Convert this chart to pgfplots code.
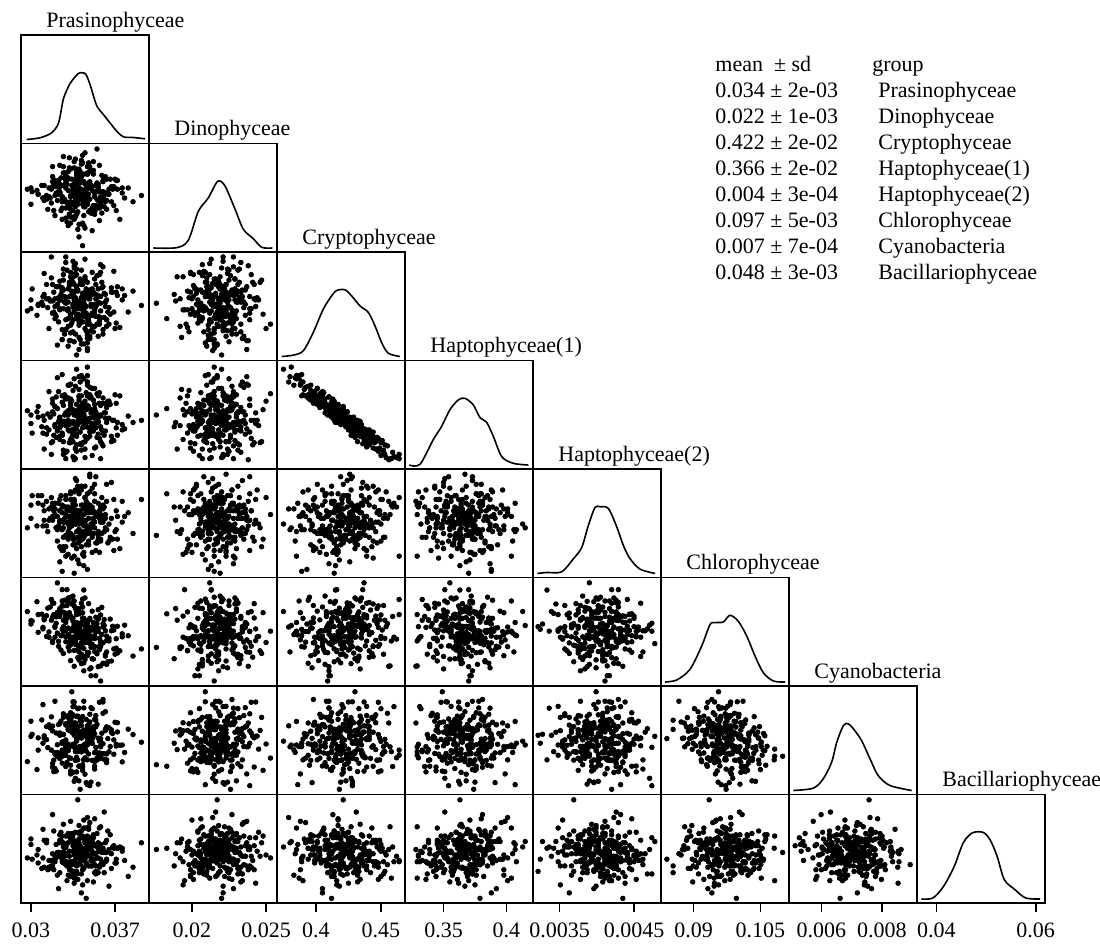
\documentclass[border=0pt]{standalone}
\usepackage{fontspec}
\setmainfont{Liberation Serif}
\usepackage{pgfplots}
\pgfplotsset{compat=1.18}
\usepackage{pgfplotstable}

\newcommand\tfont{\fontsize{11pt}{13pt}\selectfont}

\pgfplotstableread{
v1 v2 v3 v4 v5 v6 v7 v8
0.0346 0.0212 0.435 0.359 0.00417 0.0954 0.00786 0.0456
0.0324 0.0223 0.416 0.363 0.00363 0.1020 0.00651 0.0523
0.0362 0.0231 0.423 0.372 0.00408 0.0906 0.00748 0.0481
0.0338 0.0201 0.448 0.336 0.00453 0.0982 0.00581 0.0417
0.0351 0.0220 0.401 0.395 0.00384 0.1025 0.00730 0.0507
0.0310 0.0214 0.428 0.353 0.00429 0.0978 0.00693 0.0468
0.0340 0.0228 0.410 0.387 0.00336 0.0972 0.00830 0.0494
0.0358 0.0207 0.457 0.329 0.00414 0.0880 0.00679 0.0542
0.0332 0.0238 0.388 0.398 0.00396 0.1021 0.00680 0.0440
0.0376 0.0218 0.425 0.356 0.00435 0.0957 0.00620 0.0484
0.0335 0.0216 0.419 0.375 0.00375 0.0948 0.00746 0.0513
0.0343 0.0209 0.431 0.358 0.00402 0.1057 0.00731 0.0465
0.0329 0.0226 0.407 0.385 0.00444 0.0974 0.00678 0.0497
0.0354 0.0219 0.439 0.340 0.00357 0.0984 0.00801 0.0449
0.0319 0.0204 0.414 0.371 0.00420 0.1046 0.00627 0.0532
0.0347 0.0233 0.396 0.398 0.00390 0.0907 0.00740 0.0475
0.0337 0.0214 0.427 0.351 0.00471 0.0988 0.00556 0.0488
0.0365 0.0221 0.418 0.367 0.00399 0.0946 0.00753 0.0401
0.0326 0.0197 0.433 0.353 0.00426 0.1023 0.00615 0.0504
0.0341 0.0229 0.444 0.354 0.00372 0.0933 0.00788 0.0459
0.0333 0.0211 0.402 0.383 0.00411 0.0894 0.00760 0.0520
0.0356 0.0225 0.429 0.368 0.00381 0.1008 0.00650 0.0433
0.0339 0.0203 0.412 0.368 0.00459 0.0956 0.00713 0.0478
0.0321 0.0218 0.437 0.349 0.00393 0.1010 0.00584 0.0500
0.0350 0.0236 0.421 0.362 0.00423 0.0929 0.00832 0.0472
0.0344 0.0215 0.385 0.404 0.00348 0.0972 0.00686 0.0539
0.0315 0.0222 0.426 0.356 0.00405 0.0970 0.00758 0.0446
0.0369 0.0208 0.451 0.346 0.00438 0.0975 0.00650 0.0491
0.0331 0.0230 0.415 0.371 0.00387 0.1051 0.00690 0.0452
0.0348 0.0217 0.409 0.376 0.00417 0.0915 0.00651 0.0510
0.0336 0.0199 0.432 0.357 0.00366 0.0989 0.00736 0.0427
0.0360 0.0227 0.398 0.381 0.00429 0.0941 0.00864 0.0488
0.0328 0.0213 0.423 0.370 0.00402 0.1021 0.00651 0.0497
0.0342 0.0241 0.441 0.342 0.00378 0.0903 0.00720 0.0462
0.0353 0.0206 0.417 0.380 0.00447 0.0960 0.00786 0.0561
0.0305 0.0220 0.411 0.373 0.00396 0.1050 0.00590 0.0475
0.0338 0.0232 0.453 0.342 0.00414 0.0953 0.00708 0.0436
0.0347 0.0211 0.393 0.388 0.00327 0.0991 0.00728 0.0507
0.0323 0.0219 0.427 0.364 0.00432 0.0945 0.00653 0.0481
0.0359 0.0202 0.436 0.343 0.00384 0.1035 0.00653 0.0456
0.0334 0.0224 0.404 0.383 0.00408 0.0973 0.00794 0.0526
0.0345 0.0215 0.420 0.368 0.00441 0.0985 0.00572 0.0468
0.0372 0.0228 0.429 0.363 0.00375 0.0914 0.00773 0.0491
0.0330 0.0195 0.416 0.370 0.00420 0.1082 0.00670 0.0414
0.0340 0.0237 0.380 0.406 0.00390 0.0917 0.00679 0.0504
0.0317 0.0210 0.445 0.344 0.00426 0.1001 0.00796 0.0449
0.0351 0.0223 0.413 0.372 0.00354 0.0954 0.00693 0.0516
0.0339 0.0189 0.424 0.363 0.00405 0.1032 0.00741 0.0478
0.0363 0.0218 0.401 0.380 0.00462 0.0917 0.00628 0.0465
0.0327 0.0234 0.434 0.364 0.00393 0.0984 0.00728 0.0548
0.0344 0.0207 0.419 0.365 0.00423 0.0888 0.00740 0.0443
0.0355 0.0226 0.447 0.349 0.00369 0.0992 0.00627 0.0494
0.0320 0.0216 0.408 0.378 0.00411 0.1011 0.00857 0.0459
0.0337 0.0245 0.425 0.360 0.00399 0.0958 0.00670 0.0529
0.0349 0.0213 0.390 0.389 0.00450 0.1006 0.00709 0.0472
0.0332 0.0201 0.438 0.355 0.00381 0.0933 0.00636 0.0484
0.0381 0.0222 0.414 0.369 0.00417 0.0960 0.00748 0.0424
0.0325 0.0230 0.430 0.361 0.00360 0.0960 0.00654 0.0510
0.0343 0.0212 0.405 0.381 0.00429 0.1036 0.00797 0.0462
0.0358 0.0219 0.422 0.369 0.00402 0.0943 0.00683 0.0500
0.0314 0.0205 0.418 0.371 0.00387 0.1033 0.00676 0.0440
0.0336 0.0238 0.456 0.328 0.00435 0.0879 0.00772 0.0488
0.0346 0.0221 0.397 0.391 0.00396 0.0980 0.00539 0.0507
0.0329 0.0198 0.427 0.360 0.00414 0.0944 0.00769 0.0452
0.0366 0.0229 0.412 0.380 0.00378 0.1004 0.00680 0.0523
0.0341 0.0214 0.440 0.343 0.00456 0.0975 0.00779 0.0475
0.0322 0.0217 0.384 0.405 0.00372 0.0967 0.00657 0.0478
0.0352 0.0233 0.432 0.355 0.00408 0.0898 0.00744 0.0411
0.0335 0.0204 0.421 0.364 0.00423 0.1006 0.00579 0.0497
0.0348 0.0226 0.406 0.378 0.00390 0.0973 0.00765 0.0536
0.0301 0.0219 0.435 0.353 0.00444 0.0999 0.00728 0.0465
0.0339 0.0209 0.418 0.371 0.00342 0.1019 0.00660 0.0491
0.0357 0.0240 0.448 0.348 0.00420 0.0932 0.00853 0.0446
0.0333 0.0215 0.395 0.385 0.00405 0.1062 0.00607 0.0513
0.0344 0.0192 0.426 0.360 0.00384 0.0926 0.00725 0.0468
0.0318 0.0227 0.413 0.381 0.00432 0.1009 0.00599 0.0571
0.0362 0.0211 0.430 0.355 0.00393 0.0973 0.00743 0.0459
0.0340 0.0222 0.402 0.384 0.00411 0.0968 0.00666 0.0484
0.0327 0.0247 0.443 0.345 0.00363 0.0913 0.00794 0.0504
0.0354 0.0208 0.419 0.373 0.00474 0.0993 0.00677 0.0430
0.0338 0.0220 0.375 0.413 0.00399 0.1024 0.00701 0.0494
0.0345 0.0213 0.462 0.330 0.00426 0.0951 0.00636 0.0472
0.0331 0.0235 0.423 0.365 0.00375 0.0980 0.00801 0.0520
0.0350 0.0202 0.411 0.372 0.00417 0.0854 0.00747 0.0449
0.0324 0.0218 0.437 0.347 0.00438 0.1011 0.00641 0.0481
0.0370 0.0229 0.399 0.389 0.00387 0.0911 0.00775 0.0456
0.0336 0.0216 0.428 0.362 0.00402 0.1039 0.00544 0.0497
0.0343 0.0194 0.416 0.375 0.00351 0.0956 0.00742 0.0404
0.0311 0.0224 0.449 0.338 0.00420 0.1002 0.00713 0.0510
0.0347 0.0239 0.407 0.379 0.00447 0.0916 0.00693 0.0488
0.0334 0.0210 0.433 0.356 0.00396 0.1006 0.00773 0.0436
0.0356 0.0223 0.392 0.388 0.00411 0.0971 0.00635 0.0504
0.0329 0.0206 0.422 0.372 0.00381 0.0957 0.00706 0.0478
0.0342 0.0231 0.439 0.343 0.00459 0.1046 0.00713 0.0462
0.0364 0.0217 0.414 0.383 0.00369 0.0891 0.00711 0.0532
0.0320 0.0200 0.426 0.359 0.00414 0.0986 0.00594 0.0475
0.0349 0.0227 0.403 0.386 0.00390 0.1002 0.00806 0.0491
0.0337 0.0212 0.458 0.329 0.00429 0.0946 0.00660 0.0420
0.0352 0.0243 0.419 0.372 0.00405 0.0978 0.00720 0.0516
0.0326 0.0215 0.389 0.388 0.00324 0.0977 0.00693 0.0465
0.0345 0.0220 0.430 0.360 0.00423 0.1060 0.00722 0.0507
0.0333 0.0205 0.410 0.379 0.00384 0.0940 0.00634 0.0452
0.0359 0.0232 0.441 0.356 0.00441 0.0963 0.00732 0.0481
0.0340 0.0218 0.417 0.363 0.00399 0.0896 0.00716 0.0545
0.0316 0.0214 0.424 0.368 0.00408 0.1036 0.00753 0.0443
0.0374 0.0197 0.400 0.388 0.00360 0.0920 0.00685 0.0494
0.0338 0.0236 0.434 0.352 0.00417 0.0995 0.00756 0.0472
0.0347 0.0209 0.386 0.407 0.00432 0.0962 0.00531 0.0500
0.0330 0.0225 0.452 0.336 0.00378 0.1040 0.00680 0.0459
0.0355 0.0213 0.421 0.369 0.00411 0.0912 0.00767 0.0526
0.0297 0.0221 0.415 0.374 0.00393 0.1024 0.00621 0.0468
0.0342 0.0244 0.427 0.365 0.00453 0.0957 0.00721 0.0484
0.0361 0.0207 0.409 0.372 0.00387 0.0987 0.00652 0.0433
0.0335 0.0219 0.446 0.345 0.00402 0.0948 0.00804 0.0510
0.0328 0.0230 0.394 0.389 0.00426 0.1054 0.00646 0.0491
0.0348 0.0203 0.431 0.358 0.00366 0.0957 0.00706 0.0449
0.0339 0.0217 0.420 0.364 0.00414 0.0973 0.00628 0.0497
0.0323 0.0228 0.405 0.392 0.00396 0.0932 0.00766 0.0395
0.0367 0.0211 0.436 0.350 0.00465 0.0973 0.00736 0.0478
0.0343 0.0248 0.412 0.375 0.00375 0.1021 0.00587 0.0520
0.0332 0.0201 0.428 0.361 0.00420 0.0958 0.00778 0.0456
0.0350 0.0224 0.397 0.387 0.00399 0.0875 0.00712 0.0488
0.0313 0.0216 0.439 0.352 0.00435 0.1013 0.00707 0.0504
0.0344 0.0233 0.423 0.359 0.00381 0.1006 0.00744 0.0446
0.0357 0.0206 0.406 0.391 0.00408 0.0923 0.00655 0.0539
0.0336 0.0220 0.454 0.330 0.00450 0.0984 0.00689 0.0475
0.0327 0.0239 0.417 0.379 0.00357 0.0971 0.00808 0.0494
0.0378 0.0214 0.429 0.357 0.00411 0.0988 0.00657 0.0462
0.0340 0.0193 0.391 0.394 0.00390 0.0930 0.00731 0.0513
0.0319 0.0226 0.432 0.351 0.00429 0.1016 0.00582 0.0440
0.0346 0.0212 0.413 0.375 0.00405 0.0942 0.00741 0.0484
0.0334 0.0229 0.444 0.346 0.00345 0.1044 0.00736 0.0507
0.0353 0.0218 0.401 0.395 0.00417 0.0956 0.00656 0.0465
0.0325 0.0204 0.425 0.360 0.00444 0.0922 0.00779 0.0529
0.0341 0.0235 0.418 0.373 0.00384 0.0986 0.00680 0.0452
0.0360 0.0219 0.437 0.353 0.00402 0.0983 0.00854 0.0481
0.0331 0.0210 0.383 0.398 0.00423 0.0963 0.00667 0.0427
0.0348 0.0242 0.426 0.365 0.00372 0.1045 0.00714 0.0497
0.0337 0.0199 0.449 0.339 0.00414 0.0937 0.00628 0.0488
0.0321 0.0223 0.410 0.387 0.00393 0.0993 0.00733 0.0468
0.0392 0.0216 0.420 0.365 0.00438 0.0925 0.00697 0.0504
0.0339 0.0227 0.434 0.361 0.00378 0.0923 0.00799 0.0417
0.0352 0.0208 0.396 0.384 0.00420 0.0995 0.00626 0.0523
0.0328 0.0234 0.428 0.364 0.00408 0.0975 0.00699 0.0472
0.0344 0.0213 0.415 0.363 0.00333 0.1081 0.00628 0.0491
0.0335 0.0221 0.460 0.331 0.00432 0.0956 0.00836 0.0459
0.0363 0.0205 0.407 0.377 0.00390 0.0884 0.00757 0.0510
0.0318 0.0231 0.424 0.373 0.00426 0.1047 0.00613 0.0443
0.0346 0.0215 0.419 0.363 0.00366 0.0984 0.00746 0.0478
0.0333 0.0237 0.388 0.399 0.00411 0.0949 0.00573 0.0555
0.0351 0.0202 0.435 0.355 0.00456 0.0983 0.00710 0.0462
0.0338 0.0225 0.411 0.374 0.00387 0.0961 0.00798 0.0500
0.0324 0.0218 0.442 0.350 0.00405 0.1028 0.00634 0.0433
0.0357 0.0196 0.403 0.381 0.00354 0.0953 0.00701 0.0484
0.0342 0.0232 0.427 0.364 0.00429 0.0886 0.00793 0.0516
0.0330 0.0210 0.416 0.373 0.00402 0.1006 0.00618 0.0449
0.0368 0.0221 0.432 0.365 0.00375 0.0985 0.00731 0.0494
0.0345 0.0250 0.399 0.383 0.00441 0.0942 0.00690 0.0475
0.0310 0.0214 0.420 0.369 0.00396 0.0982 0.00844 0.0536
0.0337 0.0207 0.447 0.338 0.00417 0.1032 0.00626 0.0456
0.0343 0.0176 0.422 0.370 0.00381 0.0929 0.00609 0.0488
0.0336 0.0219 0.414 0.370 0.00321 0.0984 0.00724 0.0436
0.0349 0.0223 0.426 0.367 0.00478 0.0939 0.00720 0.0507
0.0358 0.0215 0.409 0.370 0.00411 0.0840 0.00711 0.0465
0.0322 0.0212 0.437 0.355 0.00390 0.1100 0.00642 0.0481
0.0341 0.0226 0.418 0.374 0.00420 0.0973 0.00513 0.0497
0.0334 0.0209 0.430 0.349 0.00399 0.0956 0.00894 0.0452
0.0346 0.0220 0.412 0.379 0.00435 0.0996 0.00662 0.0372
0.0339 0.0217 0.421 0.363 0.00369 0.0935 0.00758 0.0606
0.0355 0.0253 0.403 0.390 0.00414 0.0972 0.00635 0.0468
0.0300 0.0222 0.425 0.362 0.00408 0.0991 0.00779 0.0513
0.0385 0.0211 0.433 0.363 0.00384 0.0906 0.00727 0.0446
0.0340 0.0183 0.408 0.376 0.00447 0.1018 0.00603 0.0491
0.0332 0.0246 0.441 0.344 0.00393 0.0920 0.00743 0.0472
0.0347 0.0214 0.379 0.401 0.00423 0.0983 0.00761 0.0564
0.0329 0.0228 0.464 0.329 0.00348 0.1016 0.00646 0.0459
0.0353 0.0206 0.416 0.367 0.00402 0.0918 0.00621 0.0500
0.0338 0.0234 0.424 0.373 0.00468 0.0978 0.00750 0.0430
0.0344 0.0218 0.410 0.373 0.00378 0.0867 0.00857 0.0478
0.0326 0.0213 0.436 0.351 0.00429 0.1082 0.00642 0.0520
0.0350 0.0224 0.419 0.375 0.00396 0.0955 0.00541 0.0462
0.0335 0.0209 0.428 0.352 0.00417 0.0998 0.00855 0.0484
0.0342 0.0221 0.405 0.388 0.00363 0.0941 0.00719 0.0385
0.0361 0.0216 0.431 0.351 0.00426 0.1003 0.00630 0.0577
0.0318 0.0239 0.413 0.385 0.00405 0.0942 0.00741 0.0449
0.0345 0.0190 0.446 0.338 0.00387 0.1001 0.00668 0.0504
0.0337 0.0227 0.394 0.397 0.00453 0.0971 0.00772 0.0465
0.0356 0.0212 0.423 0.364 0.00375 0.1029 0.00634 0.0494
0.0331 0.0220 0.417 0.370 0.00411 0.0963 0.00747 0.0526
0.0343 0.0242 0.439 0.344 0.00399 0.1007 0.00600 0.0440
0.0306 0.0217 0.420 0.368 0.00432 0.0969 0.00714 0.0488
0.0371 0.0204 0.404 0.381 0.00390 0.0952 0.00682 0.0456
0.0339 0.0231 0.433 0.363 0.00420 0.0902 0.00828 0.0507
0.0326 0.0215 0.398 0.382 0.00357 0.1040 0.00666 0.0475
0.0348 0.0222 0.427 0.365 0.00408 0.0965 0.00739 0.0542
0.0333 0.0199 0.450 0.344 0.00438 0.0953 0.00585 0.0424
0.0352 0.0236 0.411 0.370 0.00384 0.0982 0.00757 0.0497
0.0341 0.0213 0.389 0.401 0.00414 0.0931 0.00680 0.0468
0.0324 0.0225 0.425 0.358 0.00393 0.1015 0.00770 0.0510
0.0358 0.0208 0.415 0.379 0.00426 0.0945 0.00640 0.0452
0.0347 0.0209 0.441 0.348 0.00393 0.0987 0.00708 0.0520
0.0320 0.0228 0.412 0.378 0.00432 0.0956 0.00656 0.0465
0.0354 0.0219 0.426 0.362 0.00417 0.1009 0.00757 0.0478
0.0335 0.0198 0.396 0.393 0.00366 0.0981 0.00689 0.0507
0.0367 0.0223 0.432 0.345 0.00408 0.0893 0.00745 0.0443
0.0329 0.0233 0.459 0.335 0.00426 0.1011 0.00602 0.0494
0.0342 0.0213 0.405 0.379 0.00384 0.0953 0.00762 0.0532
0.0306 0.0217 0.421 0.378 0.00444 0.1016 0.00666 0.0456
0.0351 0.0205 0.450 0.332 0.00399 0.0958 0.00828 0.0484
0.0336 0.0225 0.387 0.404 0.00411 0.1052 0.00680 0.0420
0.0358 0.0211 0.428 0.359 0.00375 0.0931 0.00634 0.0500
0.0324 0.0240 0.417 0.365 0.00420 0.1024 0.00733 0.0472
0.0345 0.0216 0.444 0.350 0.00459 0.0905 0.00683 0.0510
0.0331 0.0207 0.408 0.374 0.00351 0.0980 0.00794 0.0449
0.0376 0.0222 0.435 0.361 0.00402 0.0965 0.00686 0.0491
0.0315 0.0215 0.399 0.392 0.00423 0.0956 0.00765 0.0462
0.0340 0.0230 0.423 0.368 0.00390 0.1031 0.00546 0.0526
0.0353 0.0201 0.414 0.373 0.00435 0.0952 0.00730 0.0433
0.0327 0.0224 0.453 0.333 0.00378 0.1001 0.00660 0.0481
0.0362 0.0218 0.419 0.367 0.00414 0.0910 0.00816 0.0504
0.0338 0.0210 0.437 0.350 0.00360 0.1016 0.00638 0.0475
0.0349 0.0235 0.392 0.396 0.00429 0.0943 0.00719 0.0552
0.0311 0.0212 0.430 0.365 0.00405 0.1006 0.00722 0.0446
0.0356 0.0221 0.410 0.370 0.00387 0.0878 0.00713 0.0497
0.0333 0.0194 0.446 0.347 0.00450 0.1012 0.00773 0.0459
0.0344 0.0227 0.416 0.375 0.00396 0.0955 0.00628 0.0516
0.0326 0.0206 0.434 0.351 0.00417 0.1052 0.00698 0.0468
0.0365 0.0217 0.403 0.383 0.00372 0.0953 0.00660 0.0488
0.0336 0.0243 0.425 0.362 0.00438 0.0947 0.00854 0.0408
0.0347 0.0215 0.381 0.415 0.00393 0.0987 0.00686 0.0507
0.0318 0.0223 0.439 0.345 0.00411 0.0946 0.00760 0.0478
0.0353 0.0203 0.421 0.376 0.00462 0.0973 0.00592 0.0452
0.0335 0.0219 0.407 0.372 0.00381 0.1065 0.00681 0.0523
0.0371 0.0228 0.432 0.358 0.00420 0.0927 0.00689 0.0465
0.0329 0.0211 0.398 0.386 0.00363 0.1007 0.00764 0.0494
0.0342 0.0231 0.452 0.337 0.00408 0.0911 0.00659 0.0430
0.0300 0.0209 0.417 0.370 0.00429 0.1000 0.00720 0.0500
0.0356 0.0222 0.428 0.363 0.00387 0.1004 0.00533 0.0484
0.0333 0.0199 0.412 0.376 0.00447 0.0944 0.00812 0.0440
0.0345 0.0225 0.443 0.345 0.00399 0.0968 0.00678 0.0539
0.0324 0.0218 0.426 0.368 0.00339 0.1024 0.00724 0.0472
0.0360 0.0213 0.394 0.386 0.00423 0.0887 0.00691 0.0491
0.0338 0.0237 0.437 0.357 0.00405 0.0991 0.00761 0.0449
0.0351 0.0206 0.419 0.362 0.00378 0.0937 0.00626 0.0513
0.0317 0.0221 0.464 0.333 0.00441 0.1056 0.00666 0.0462
0.0344 0.0216 0.410 0.378 0.00414 0.0964 0.00831 0.0488
0.0354 0.0224 0.430 0.358 0.00369 0.0988 0.00660 0.0436
0.0331 0.0192 0.401 0.386 0.00426 0.0930 0.00746 0.0504
0.0363 0.0229 0.425 0.363 0.00390 0.0959 0.00651 0.0481
0.0327 0.0212 0.448 0.337 0.00402 0.1039 0.00727 0.0456
0.0340 0.0227 0.405 0.388 0.00453 0.0959 0.00604 0.0529
0.0349 0.0204 0.434 0.350 0.00384 0.0872 0.00776 0.0475
0.0322 0.0217 0.421 0.376 0.00411 0.1022 0.00687 0.0427
0.0369 0.0223 0.414 0.365 0.00357 0.0925 0.00706 0.0497
0.0335 0.0210 0.441 0.353 0.00429 0.1048 0.00758 0.0484
0.0347 0.0234 0.390 0.401 0.00417 0.0970 0.00628 0.0414
0.0313 0.0213 0.426 0.358 0.00396 0.0958 0.00758 0.0510
0.0356 0.0219 0.435 0.352 0.00432 0.0979 0.00653 0.0468
0.0336 0.0197 0.416 0.373 0.00375 0.0921 0.00743 0.0494
0.0360 0.0228 0.455 0.341 0.00408 0.0992 0.00810 0.0452
0.0329 0.0222 0.398 0.387 0.00438 0.0995 0.00679 0.0520
0.0345 0.0207 0.432 0.364 0.00381 0.0897 0.00669 0.0465
0.0338 0.0230 0.408 0.380 0.00420 0.1024 0.00709 0.0507
0.0353 0.0215 0.444 0.339 0.00393 0.0931 0.00603 0.0478
0.0309 0.0224 0.423 0.359 0.00444 0.1017 0.00784 0.0443
0.0344 0.0200 0.417 0.371 0.00354 0.0951 0.00678 0.0558
0.0372 0.0221 0.437 0.351 0.00411 0.0985 0.00737 0.0491
0.0326 0.0211 0.389 0.408 0.00390 0.0960 0.00693 0.0459
0.0349 0.0239 0.428 0.354 0.00474 0.0972 0.00527 0.0516
0.0333 0.0216 0.412 0.382 0.00405 0.0936 0.00779 0.0424
0.0358 0.0209 0.450 0.345 0.00372 0.1015 0.00700 0.0500
0.0320 0.0225 0.419 0.361 0.00423 0.0982 0.00650 0.0472
0.0342 0.0217 0.385 0.407 0.00387 0.0995 0.00778 0.0488
0.0351 0.0188 0.430 0.359 0.00426 0.0899 0.00693 0.0449
0.0331 0.0229 0.435 0.356 0.00399 0.1060 0.00664 0.0523
0.0363 0.0212 0.407 0.381 0.00435 0.0947 0.00617 0.0462
0.0336 0.0223 0.439 0.356 0.00348 0.0976 0.00837 0.0481
0.0354 0.0205 0.410 0.371 0.00414 0.0854 0.00783 0.0433
0.0324 0.0219 0.425 0.367 0.00402 0.1032 0.00634 0.0504
0.0347 0.0233 0.403 0.377 0.00384 0.0953 0.00745 0.0475
}\samples

\pgfplotstableread{
x y
0.02964 0
0.03075 0.025
0.03172 0.10
0.03230 0.25
0.03269 0.60
0.03311 0.79
0.03339 0.875
0.03394 0.99
0.03430 1.0
0.03458 0.975
0.03492 0.825
0.03547 0.51
0.03603 0.375
0.03658 0.25
0.03714 0.125
0.03769 0.04
0.03853 0.03
0.03950 0.01
}\dA
\pgfplotstableread{
x y
0.01739 0
0.01897 0.005
0.01975 0.115
0.02043 0.55
0.02110 0.75
0.02174 1.0
0.02223 0.93
0.02291 0.58
0.02347 0.28
0.02414 0.14
0.02471 0.01
0.02543 0
}\dB
\pgfplotstableread{
x y
0.3736 0
0.3825 0.02
0.3902 0.085
0.3979 0.36
0.4056 0.71
0.4121 0.91
0.4159 0.99
0.4223 1.0
0.4274 0.91
0.4338 0.76
0.4403 0.66
0.4454 0.46
0.4505 0.21
0.4556 0.05
0.4646 0
}\dC
\pgfplotstableread{
x y
0.3227 0
0.3312 0.01
0.3418 0.38
0.3485 0.58
0.3551 0.83
0.3617 0.975
0.3670 1.0
0.3737 0.9
0.3790 0.71
0.3843 0.64
0.3896 0.43
0.3963 0.126
0.4055 0.025
0.4175 0
}\dD
\pgfplotstableread{
x y
0.003200 0
0.003326 0.015
0.003528 0.025
0.003684 0.22
0.003797 0.39
0.003886 0.72
0.003976 0.99
0.004044 1.0
0.004155 0.975
0.004268 0.70
0.004357 0.42
0.004448 0.22
0.004582 0.065
0.004784 0
}\dE
\pgfplotstableread{
x y
0.08358 0
0.08620 0.03
0.08919 0.19
0.09182 0.54
0.09368 0.86
0.09481 0.89
0.09667 0.90
0.09817 1.0
0.10004 0.91
0.10192 0.69
0.10379 0.39
0.10565 0.14
0.10790 0.015
0.11053 0
}\dF
\pgfplotstableread{
x y
0.00507 0
0.00573 0.035
0.00606 0.175
0.00634 0.425
0.00651 0.725
0.00673 0.975
0.00689 1.0
0.00706 0.925
0.00733 0.75
0.00761 0.475
0.00788 0.225
0.00827 0.075
0.00899 0
}\dG
\pgfplotstableread{
x y
0.03698 0
0.03930 0.015
0.04145 0.19
0.04360 0.49
0.04540 0.84
0.04720 0.99
0.04937 1.0
0.05080 0.89
0.05223 0.64
0.05368 0.29
0.05583 0.14
0.05799 0.015
0.06087 0
}\dH

\newcommand\getvar[1]{%
\ifcase#1\relax\or
\def\lo{0.02917}\def\hi{0.03983}\def\nm{Prasinophyceae}\def\tp{0.03,0.037}\def\curd{dA}%
\or
\def\lo{0.0171}\def\hi{0.02574}\def\nm{Dinophyceae}\def\tp{0.02,0.025}\def\curd{dB}%
\or
\def\lo{0.370}\def\hi{0.4685}\def\nm{Cryptophyceae}\def\tp{0.4,0.45}\def\curd{dC}%
\or
\def\lo{0.3193}\def\hi{0.4212}\def\nm{Haptophyceae(1)}\def\tp{0.35,0.4}\def\curd{dD}%
\or
\def\lo{0.003142}\def\hi{0.004863}\def\nm{Haptophyceae(2)}\def\tp{0.0035,0.0045}\def\curd{dE}%
\or
\def\lo{0.08268}\def\hi{0.11142}\def\nm{Chlorophyceae}\def\tp{0.09,0.105}\def\curd{dF}%
\or
\def\lo{0.004927}\def\hi{0.009166}\def\nm{Cyanobacteria}\def\tp{0.006,0.008}\def\curd{dG}%
\or
\def\lo{0.0361}\def\hi{0.06187}\def\nm{Bacillariophyceae}\def\tp{0.04,0.06}\def\curd{dH}%
\fi}

\pgfplotsset{
  panel/.style={width=64pt, height=54.25pt, scale only axis, anchor=north west,
    ytick=\empty, scaled x ticks=false, scaled y ticks=false,
    axis line style={line width=0.85pt, black},
    tick style={line width=0.85pt, black}, tick align=outside, major tick length=4.5pt,
    xtick pos=left, ticklabel style={font=\tfont},
    xticklabel style={yshift=-2pt},
    /pgf/number format/assume math mode=true},
  scat/.style={only marks, mark=*, mark size=1.15pt, black, mark options={draw=none, fill=black}},
  dens/.style={black, line width=0.8pt, no marks, smooth, tension=0.5},
}

\begin{document}
\begin{tikzpicture}
\useasboundingbox (0,0) rectangle (550pt,-472.5pt);
\foreach \r in {1,...,8}{
  \foreach \c in {1,...,\r}{
    \getvar{\c}\let\xlo\lo\let\xhi\hi\let\xtp\tp\let\xd\curd
    \getvar{\r}\let\ylo\lo\let\yhi\hi\let\ynm\nm
    \pgfmathsetmacro\ax{(21+128*(\c-1))*0.5}
    \pgfmathsetmacro\ay{-(35+108.5*(\r-1))*0.5}
    \ifnum\r=8
      \pgfplotsset{curtick/.style={xtick/.expand once=\xtp, xticklabels/.expand once=\xtp}}%
    \else
      \pgfplotsset{curtick/.style={xtick=\empty}}%
    \fi
    \ifnum\c=\r
      \begin{axis}[panel, curtick, at={(\ax pt,\ay pt)}, xmin=\xlo, xmax=\xhi, ymin=-0.06, ymax=1.567]
        \edef\doplot{\noexpand\addplot[dens] table[x=x, y=y] {\expandafter\noexpand\csname\xd\endcsname};}\doplot
      \end{axis}
      \node[anchor=base west, font=\tfont, inner sep=0pt] at ({\ax pt+12.5pt},{\ay pt+3.75pt}) {\ynm};
    \else
      \begin{axis}[panel, curtick, at={(\ax pt,\ay pt)}, xmin=\xlo, xmax=\xhi, ymin=\ylo, ymax=\yhi]
        \edef\doplot{\noexpand\addplot[scat] table[x=v\c, y=v\r]{\noexpand\samples};}\doplot
      \end{axis}
    \fi
  }
}
\begin{scope}[font=\tfont]
\node[anchor=base west, inner sep=0pt] at (357.5pt,-36pt) {mean\ \ ± sd};
\node[anchor=base west, inner sep=0pt] at (436pt,-36pt) {group};
\node[anchor=base west, inner sep=0pt] at (357.5pt,-48.95pt) {0.034 ± 2e-03};
\node[anchor=base west, inner sep=0pt] at (439pt,-48.95pt) {Prasinophyceae};
\node[anchor=base west, inner sep=0pt] at (357.5pt,-61.9pt) {0.022 ± 1e-03};
\node[anchor=base west, inner sep=0pt] at (439pt,-61.9pt) {Dinophyceae};
\node[anchor=base west, inner sep=0pt] at (357.5pt,-74.85pt) {0.422 ± 2e-02};
\node[anchor=base west, inner sep=0pt] at (439pt,-74.85pt) {Cryptophyceae};
\node[anchor=base west, inner sep=0pt] at (357.5pt,-87.8pt) {0.366 ± 2e-02};
\node[anchor=base west, inner sep=0pt] at (439pt,-87.8pt) {Haptophyceae(1)};
\node[anchor=base west, inner sep=0pt] at (357.5pt,-100.75pt) {0.004 ± 3e-04};
\node[anchor=base west, inner sep=0pt] at (439pt,-100.75pt) {Haptophyceae(2)};
\node[anchor=base west, inner sep=0pt] at (357.5pt,-113.7pt) {0.097 ± 5e-03};
\node[anchor=base west, inner sep=0pt] at (439pt,-113.7pt) {Chlorophyceae};
\node[anchor=base west, inner sep=0pt] at (357.5pt,-126.65pt) {0.007 ± 7e-04};
\node[anchor=base west, inner sep=0pt] at (439pt,-126.65pt) {Cyanobacteria};
\node[anchor=base west, inner sep=0pt] at (357.5pt,-139.6pt) {0.048 ± 3e-03};
\node[anchor=base west, inner sep=0pt] at (439pt,-139.6pt) {Bacillariophyceae};
\end{scope}
\end{tikzpicture}
\end{document}
